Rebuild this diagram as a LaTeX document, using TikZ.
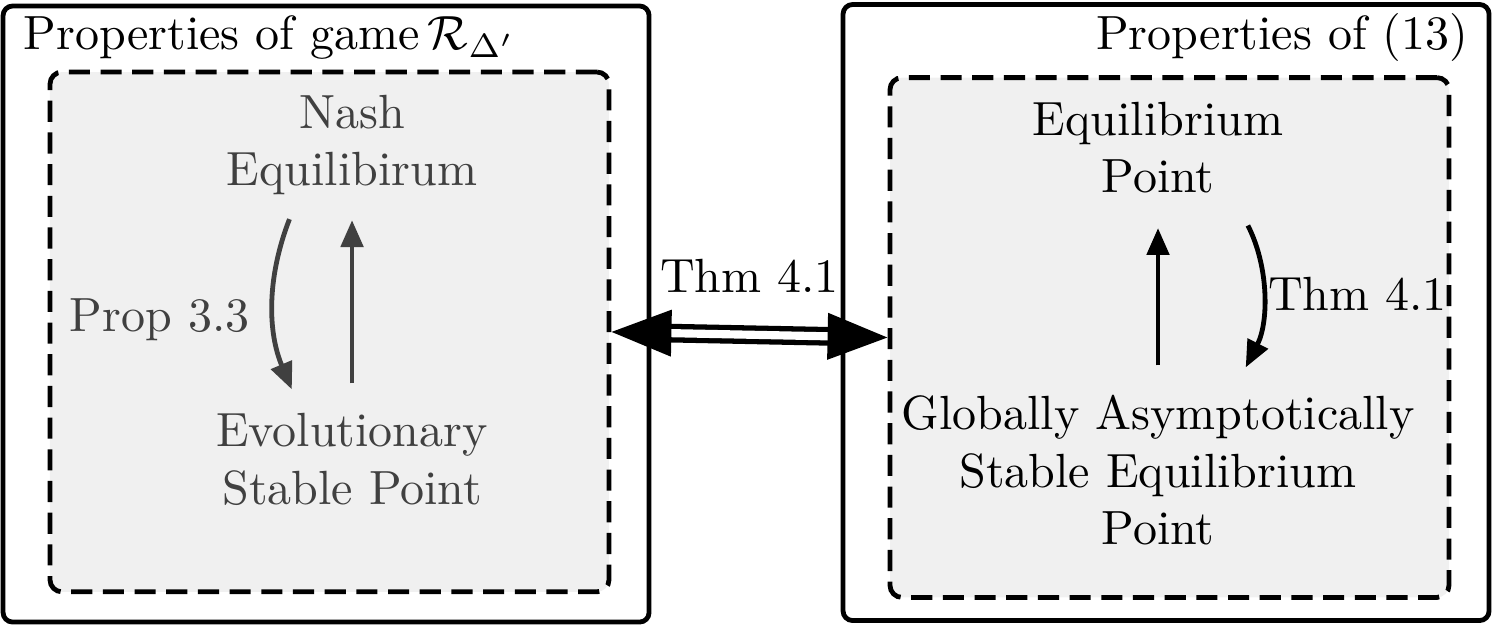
\documentclass[tikz,border=0pt]{standalone}
\usepackage{amsfonts,amssymb,amsmath}
\usepackage{xcolor}
\usetikzlibrary{arrows.meta,positioning}
\definecolor{boxgray}{RGB}{240,240,240}
\definecolor{txtgray}{RGB}{64,64,64}
\begin{document}
\begin{tikzpicture}[>={Triangle[length=5.6pt,width=4.6pt]},
outerbox/.style={draw,line width=1pt,rounded corners=2pt,minimum width=4.729cm,minimum height=4.51cm,inner sep=0pt},
innerbox/.style={draw,line width=1pt,dash pattern=on 4.4pt off 2.2pt,rounded corners=2.5pt,fill=boxgray,minimum width=4.092cm,minimum height=3.805cm,inner sep=0pt},
prop/.style={align=center,inner sep=2pt},
imp/.style={->,line width=1pt}]
\useasboundingbox(0,0)rectangle(10.944,4.612);
\node[outerbox](gameL)at(2.387,2.313){};
\node[outerbox](sysR)at(8.536,2.324){};
\node[innerbox](propL)at(2.412,2.182){};
\node[innerbox](propR)at(8.561,2.141){};
\node[anchor=base west,inner sep=0pt]at(0.168,4.246){Properties of game\,$\mathcal{R}_{\Delta'}$};
\node[anchor=base east,inner sep=0pt]at(10.754,4.246){Properties of (13)};
% left side
\node[prop,txtgray](nash)at(2.577,3.55){Nash\\Equilibirum};
\node[prop,txtgray](ess)at(2.577,1.25){Evolutionary\\Stable Point};
\draw[imp,txtgray,shorten >=3pt,shorten <=3pt]([xshift=-0.42cm]nash.south)to[bend right=22]node[pos=0.58,left=1.5pt]{Prop 3.3}([xshift=-0.40cm]ess.north);
\draw[imp,txtgray,shorten >=3pt,shorten <=4pt](ess.north)--(nash.south);
% right side
\node[prop](eqp)at(8.477,3.53){Equilibrium\\Point};
\node[prop](gas)at(8.477,1.17){Globally Asymptotically\\Stable Equilibrium\\Point};
\draw[imp,shorten >=5pt,shorten <=4pt](gas.north)--(eqp.south);
\draw[imp,shorten >=4pt,shorten <=5pt]([xshift=0.578cm]eqp.south)to[bend left=27]node[midway,right,inner sep=1pt]{Thm 4.1}([xshift=0.578cm]gas.north);
% equivalence
\draw[{Triangle[length=12.5pt,width=9.5pt]}-{Triangle[length=12.5pt,width=9.5pt]},line width=1.1pt,double,double distance=1.7pt](propL.east)--node[midway,above=5pt]{Thm 4.1}(propR.west);
\end{tikzpicture}
\end{document}
